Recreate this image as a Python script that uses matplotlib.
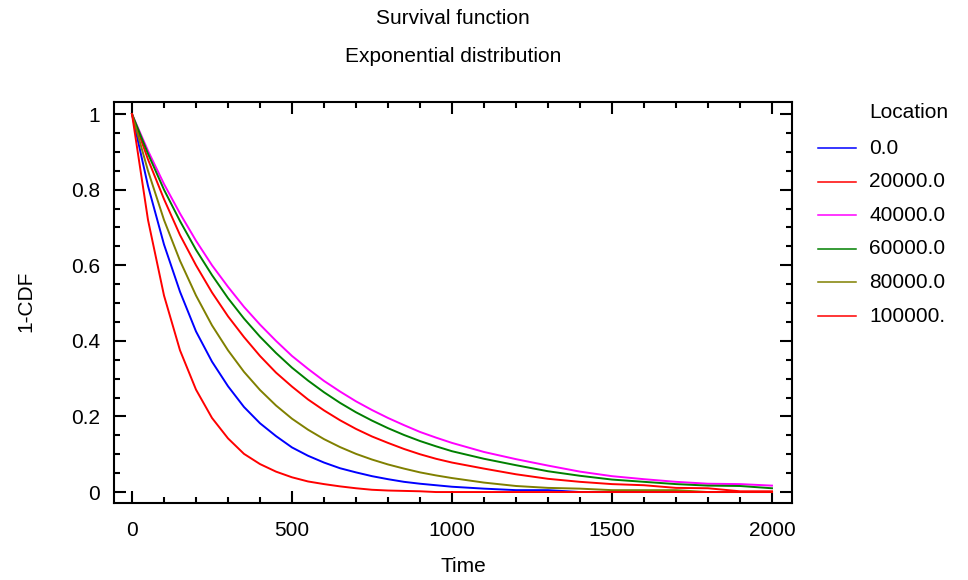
import matplotlib
matplotlib.use("Agg")
import matplotlib.pyplot as plt
from matplotlib.lines import Line2D
from matplotlib.ticker import MultipleLocator

plt.rcParams['font.family'] = ['Liberation Sans', 'DejaVu Sans']

# time grid the curves were read at
time = [0, 50, 100, 150, 200, 250, 300, 350, 400, 450, 500, 550, 600, 650, 700,
        750, 800, 850, 900, 950, 1000, 1100, 1200, 1300, 1400, 1500, 1600, 1700,
        1800, 1900, 2000]

# 1-CDF for each location
loc_0 = [1, 0.81, 0.655, 0.53, 0.425, 0.345, 0.28, 0.225, 0.182, 0.148, 0.118,
         0.096, 0.078, 0.063, 0.052, 0.042, 0.034, 0.027, 0.022, 0.018, 0.014,
         0.009, 0.005, 0.005, 0.0, 0.0, 0.0, 0.0, 0.0, 0.0, 0.0]
loc_20000 = [1, 0.88, 0.775, 0.68, 0.6, 0.528, 0.465, 0.41, 0.36, 0.316, 0.279,
             0.245, 0.216, 0.19, 0.167, 0.147, 0.13, 0.114, 0.1, 0.088, 0.078,
             0.062, 0.047, 0.035, 0.027, 0.021, 0.018, 0.011, 0.01, 0.002, 0.002]
loc_40000 = [1, 0.903, 0.815, 0.737, 0.665, 0.6, 0.543, 0.49, 0.443, 0.4, 0.36,
             0.326, 0.294, 0.266, 0.24, 0.217, 0.196, 0.177, 0.159, 0.144, 0.13,
             0.106, 0.087, 0.07, 0.054, 0.042, 0.034, 0.027, 0.022, 0.021, 0.017]
loc_60000 = [1, 0.895, 0.8, 0.717, 0.641, 0.574, 0.513, 0.459, 0.411, 0.368, 0.329,
             0.295, 0.264, 0.236, 0.211, 0.189, 0.169, 0.151, 0.135, 0.121, 0.108,
             0.088, 0.071, 0.055, 0.043, 0.033, 0.027, 0.021, 0.017, 0.016, 0.01]
loc_80000 = [1, 0.85, 0.72, 0.612, 0.52, 0.441, 0.375, 0.318, 0.27, 0.229, 0.194,
             0.165, 0.14, 0.119, 0.101, 0.086, 0.073, 0.062, 0.052, 0.044, 0.037,
             0.025, 0.016, 0.011, 0.009, 0.005, 0.005, 0.005, 0.0, 0.0, 0.0]
loc_100000 = [1, 0.72, 0.52, 0.375, 0.271, 0.196, 0.142, 0.101, 0.074, 0.054, 0.039,
              0.028, 0.021, 0.015, 0.01, 0.006, 0.004, 0.003, 0.002, 0.0, 0.0,
              0.0, 0.0, 0.0, 0.0, 0.0, 0.0, 0.0, 0.0, 0.0, 0.0]

labels = ['0.0', '20000.0', '40000.0', '60000.0', '80000.0', '100000.']
colors = ['#0000ff', '#ff0000', '#ff00ff', '#008000', '#808000', '#ff0000']
series = [loc_0, loc_20000, loc_40000, loc_60000, loc_80000, loc_100000]

fs = 15

fig = plt.figure(figsize=(9.68, 5.8), dpi=100)
ax = fig.add_axes([114/968, 1-503/580, 678/968, 401/580])

for ys, c in zip(series, colors):
    ax.plot(time, ys, color=c, lw=1.4)

ax.set_xlim(-56.25, 2062.5)
ax.set_ylim(-0.029, 1.032)
ax.set_xticks([0, 500, 1000, 1500, 2000])
ax.set_yticks([0, 0.2, 0.4, 0.6, 0.8, 1.0])
ax.set_yticklabels(['0', '0.2', '0.4', '0.6', '0.8', '1'])
ax.xaxis.set_minor_locator(MultipleLocator(100))
ax.yaxis.set_minor_locator(MultipleLocator(0.05))
ax.tick_params(which='both', direction='in', top=True, right=True, width=1.5,
               labelsize=fs, color='black')
ax.tick_params(which='major', length=8.6)
ax.tick_params(which='minor', length=4.3)
ax.tick_params(axis='x', pad=13)
ax.tick_params(axis='y', pad=10)
for s in ax.spines.values():
    s.set_linewidth(1.5)

fig.text(453/968, 1-19/580, 'Survival function', ha='center', va='center', fontsize=fs)
fig.text(453/968, 1-57/580, 'Exponential distribution', ha='center', va='center', fontsize=fs)
fig.text(463/968, 1-566/580, 'Time', ha='center', va='center', fontsize=fs)
fig.text(26/968, 1-301/580, '1-CDF', ha='center', va='center', rotation=90, fontsize=fs)

# legend
fig.text(869/968, 1-113/580, 'Location', ha='left', va='center', fontsize=fs)
for i, (lab, c) in enumerate(zip(labels, colors)):
    yy = 1 - (148 + i*33.6)/580
    fig.add_artist(Line2D([818/968, 856/968], [yy, yy], color=c, lw=1.1))
    fig.text(869/968, yy, lab, ha='left', va='center', fontsize=fs)

fig.savefig('out.png', dpi=100)
